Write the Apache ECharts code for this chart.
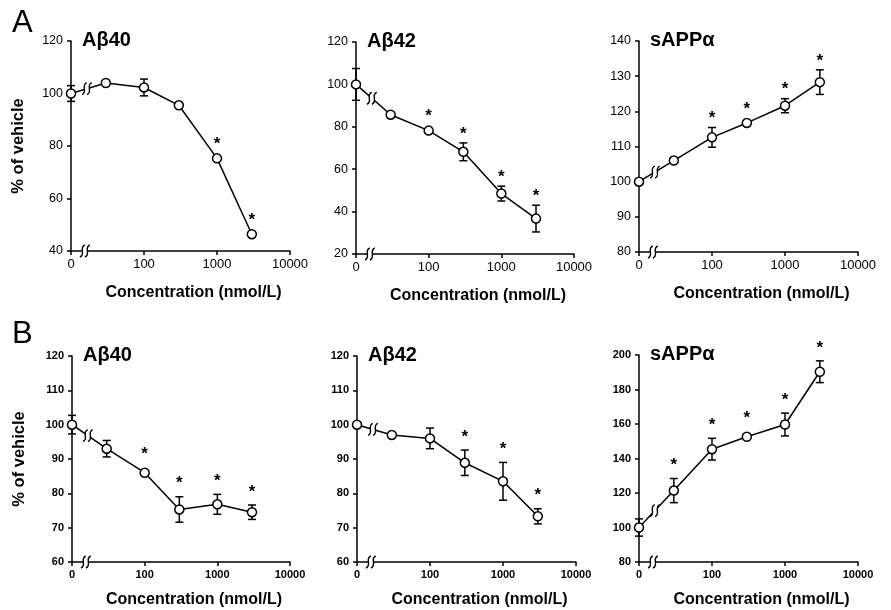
<!DOCTYPE html>
<html>
<head>
<meta charset="utf-8">
<script src="https://cdn.jsdelivr.net/npm/echarts@6/dist/echarts.min.js"></script>
<style>html,body{margin:0;padding:0;background:#fff}#c{width:891px;height:610px}</style>
</head>
<body>
<div id="c"></div>
<script>
// ---- data ----
const concentrations = [0, 30, 100, 300, 1000, 3000]; // nmol/L; 0 = vehicle, drawn at axis origin
const xTickLabels = ['0', '100', '1000', '10000'];

const A_ab40_mean = [100, 104, 102.3, 95.5, 75.3, 46.4];
const A_ab40_err  = [3, 0, 3.2, 0, 0, 0];
const A_ab40_star = [0, 0, 0, 0, 1, 1];

const A_ab42_mean = [100, 85.7, 78.2, 68.2, 48.5, 36.7];
const A_ab42_err  = [7.5, 0, 0, 4.2, 3.5, 6.3];
const A_ab42_star = [0, 0, 1, 1, 1, 1];

const A_sapp_mean = [100, 106, 112.6, 116.7, 121.6, 128.3];
const A_sapp_err  = [0, 0, 2.8, 0, 2, 3.5];
const A_sapp_star = [0, 0, 1, 1, 1, 1];

const B_ab40_mean = [100, 93, 86, 75.3, 76.8, 74.5];
const B_ab40_err  = [2.7, 2.4, 0, 3.7, 2.9, 2.1];
const B_ab40_star = [0, 0, 1, 1, 1, 1];

const B_ab42_mean = [100, 97, 96, 88.9, 83.5, 73.3];
const B_ab42_err  = [0, 0, 3, 3.7, 5.5, 2.2];
const B_ab42_star = [0, 0, 0, 1, 1, 1];

const B_sapp_mean = [100, 121.4, 145.4, 152.6, 159.7, 190.3];
const B_sapp_err  = [5, 7, 6.3, 0, 6.6, 6.3];
const B_sapp_star = [0, 1, 1, 1, 1, 1];

const titles = ['Aβ40', 'Aβ42', 'sAPPα', 'Aβ40', 'Aβ42', 'sAPPα'];
const yRanges = [[40, 120, 20], [20, 120, 20], [80, 140, 10], [60, 120, 10], [60, 120, 10], [80, 200, 20]];
const means = [A_ab40_mean, A_ab42_mean, A_sapp_mean, B_ab40_mean, B_ab42_mean, B_sapp_mean];
const errs  = [A_ab40_err, A_ab42_err, A_sapp_err, B_ab40_err, B_ab42_err, B_sapp_err];
const stars = [A_ab40_star, A_ab42_star, A_sapp_star, B_ab40_star, B_ab42_star, B_sapp_star];

// ---- layout ----
const grids = [
  {left: 71,  top: 41,  width: 219, height: 210},
  {left: 356, top: 42,  width: 218, height: 212},
  {left: 639, top: 41,  width: 219, height: 211},
  {left: 72,  top: 356, width: 218, height: 206},
  {left: 357, top: 356, width: 219, height: 206},
  {left: 639, top: 355, width: 219, height: 207}
];
const FONT = '"Liberation Sans", Arial, Helvetica, sans-serif';
const BREAK_X = 15.5;
const plotX = c => (c === 0 ? 10 : c);

function breakMark(cx, cy, h) {
  const s = 2.4;
  function curve(ox) {
    return {type: 'bezierCurve',
      shape: {x1: ox - s, y1: cy + h / 2, cpx1: ox + s * 1.6, cpy1: cy + h * 0.3,
              cpx2: ox - s * 1.6, cpy2: cy - h * 0.3, x2: ox + s, y2: cy - h / 2},
      style: {stroke: '#000', lineWidth: 1.4, fill: null}};
  }
  return [
    {type: 'rect', shape: {x: cx - 2.2, y: cy - h / 2 + 1, width: 4.4, height: h - 2}, style: {fill: '#fff'}},
    curve(cx - 2.5), curve(cx + 2.5)
  ];
}

const xAxes = [], yAxes = [], series = [], titleComps = [];
for (let i = 0; i < 6; i++) {
  const topRow = i < 3;
  const [ymin, ymax, yint] = yRanges[i];
  xAxes.push({
    type: 'log', gridIndex: i, min: 10, max: 10000, logBase: 10,
    axisLine: {show: true, lineStyle: {color: '#000', width: 1.5}},
    axisTick: {show: true, length: 4, lineStyle: {color: '#000', width: 1.5}},
    minorTick: {show: false}, splitLine: {show: false}, minorSplitLine: {show: false},
    axisLabel: {
      formatter: v => { const k = Math.round(Math.log10(v)) - 1; return xTickLabels[k] != null ? xTickLabels[k] : ''; },
      color: '#000', fontSize: topRow ? 13 : 11, fontWeight: topRow ? 'normal' : 'bold',
      margin: 7, fontFamily: FONT
    },
    name: 'Concentration (nmol/L)', nameLocation: 'middle', nameGap: topRow ? 34 : 30,
    nameTextStyle: {fontSize: 16, fontWeight: 'bold', color: '#000', fontFamily: FONT, padding: [0, 0, 0, 26]}
  });
  const ya = {
    type: 'value', gridIndex: i, min: ymin, max: ymax, interval: yint,
    axisLine: {show: true, lineStyle: {color: '#000', width: 1.5}},
    axisTick: {show: true, length: 4, lineStyle: {color: '#000', width: 1.5}},
    splitLine: {show: false},
    axisLabel: {color: '#000', fontSize: topRow ? 12.5 : 11, fontWeight: topRow ? 'normal' : 'bold', margin: 8, fontFamily: FONT}
  };
  if (i % 3 === 0) {
    ya.name = '% of vehicle'; ya.nameLocation = 'middle'; ya.nameGap = 44;
    ya.nameTextStyle = {fontSize: 16.5, fontWeight: 'bold', color: '#000', fontFamily: FONT};
  }
  yAxes.push(ya);

  titleComps.push({
    text: titles[i], left: grids[i].left + 11, top: grids[i].top - 11,
    textStyle: {fontSize: 20, fontWeight: 'bold', color: '#000', fontFamily: FONT}, padding: 0
  });

  const pts = concentrations.map((c, k) => [plotX(c), means[i][k], errs[i][k], stars[i][k]]);

  // error bars
  series.push({
    type: 'custom', xAxisIndex: i, yAxisIndex: i, z: 1, clip: false, silent: true,
    data: pts.filter(p => p[2] > 0),
    renderItem: (params, api) => {
      const x = api.value(0), m = api.value(1), e = api.value(2);
      const t = api.coord([x, m + e]), b = api.coord([x, m - e]);
      const w = 4;
      const st = {stroke: '#000', lineWidth: 1.5};
      return {type: 'group', children: [
        {type: 'line', shape: {x1: t[0], y1: t[1], x2: b[0], y2: b[1]}, style: st},
        {type: 'line', shape: {x1: t[0] - w, y1: t[1], x2: t[0] + w, y2: t[1]}, style: st},
        {type: 'line', shape: {x1: b[0] - w, y1: b[1], x2: b[0] + w, y2: b[1]}, style: st}
      ]};
    }
  });

  // line with open circles
  series.push({
    type: 'line', xAxisIndex: i, yAxisIndex: i, z: 2, clip: false, silent: true,
    data: pts.map(p => [p[0], p[1]]),
    symbol: 'circle', symbolSize: 9, showAllSymbol: true,
    lineStyle: {color: '#000', width: 1.5},
    itemStyle: {color: '#fff', borderColor: '#000', borderWidth: 1.5}
  });

  // axis break marks (on x axis and on first segment)
  series.push({
    type: 'custom', xAxisIndex: i, yAxisIndex: i, z: 3, clip: false, silent: true,
    data: [[BREAK_X, ymin, means[i][0], means[i][1]]],
    renderItem: (params, api) => {
      const a = api.coord([api.value(0), api.value(1)]);
      const p0 = api.coord([plotX(concentrations[0]), api.value(2)]);
      const p1 = api.coord([plotX(concentrations[1]), api.value(3)]);
      const bx = a[0] + 2;
      const by = p0[1] + (p1[1] - p0[1]) * (bx - p0[0]) / (p1[0] - p0[0]);
      return {type: 'group', children: breakMark(a[0], a[1], 12).concat(breakMark(bx, by, 12))};
    }
  });

  // significance asterisks
  const gap = topRow ? 13 : 17;
  series.push({
    type: 'custom', xAxisIndex: i, yAxisIndex: i, z: 4, clip: false, silent: true,
    data: pts.filter(p => p[3] === 1),
    renderItem: (params, api) => {
      const x = api.value(0), m = api.value(1), e = api.value(2);
      const pm = api.coord([x, m]);
      const pt = api.coord([x, m + e]);
      const y = Math.min(pt[1], pm[1] - 5) - gap + 4;
      return {type: 'text', style: {text: '*', x: pm[0], y: y, align: 'center', verticalAlign: 'middle',
        font: 'bold 17px ' + FONT, fill: '#000'}};
    }
  });
}

const chart = echarts.init(document.getElementById('c'), null, {renderer: 'canvas'});
chart.setOption({
  animation: false,
  backgroundColor: '#fff',
  title: titleComps,
  grid: grids,
  xAxis: xAxes,
  yAxis: yAxes,
  series: series,
  graphic: [
    {type: 'text', left: 12, top: 8, style: {text: 'A', font: '31px ' + FONT, fill: '#000'}},
    {type: 'text', left: 12, top: 319, style: {text: 'B', font: '31px ' + FONT, fill: '#000'}}
  ]
});
</script>
</body>
</html>
